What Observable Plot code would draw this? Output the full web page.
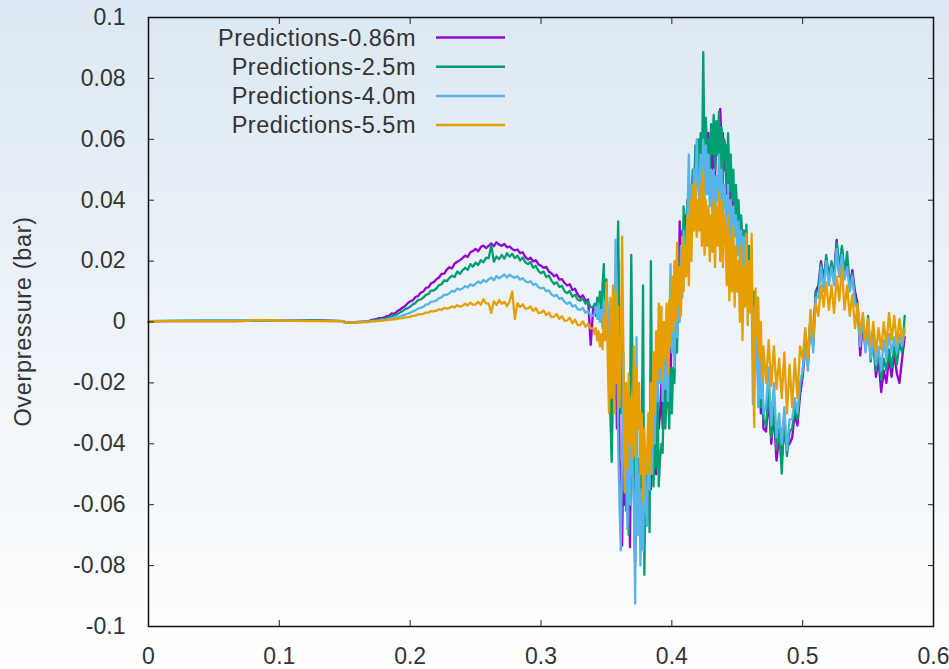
<!DOCTYPE html>
<html>
<head>
<meta charset="utf-8">
<script src="https://cdn.jsdelivr.net/npm/d3@7"></script>
<script src="https://cdn.jsdelivr.net/npm/@observablehq/plot@0.6"></script>
<style>
  html, body { margin: 0; padding: 0; }
  body {
    width: 949px; height: 669px; overflow: hidden;
    background: linear-gradient(to bottom, #dce8f3 0%, #ffffff 100%);
    font-family: "Liberation Sans", Arial, sans-serif;
  }
  #chart { position: relative; width: 949px; height: 669px; }
  #overlay { position: absolute; left: 0; top: 0; pointer-events: none; }
</style>
</head>
<body>
<div id="chart"></div>
<script>
// ---------- data ----------
const seriesNames = ["Predictions-0.86m", "Predictions-2.5m", "Predictions-4.0m", "Predictions-5.5m"];
const seriesColors = ["#9400d3", "#009e73", "#56b4e9", "#e69f00"];

const xTicks = [0, 0.1, 0.2, 0.3, 0.4, 0.5, 0.6];
const xTickLabels = ["0", "0.1", "0.2", "0.3", "0.4", "0.5", "0.6"];
const yTicks = [-0.1, -0.08, -0.06, -0.04, -0.02, 0, 0.02, 0.04, 0.06, 0.08, 0.1];
const yTickLabels = ["-0.1", "-0.08", "-0.06", "-0.04", "-0.02", "0", "0.02", "0.04", "0.06", "0.08", "0.1"];
const yTitle = "Overpressure (bar)";

// time (s): quiet part read point by point, then regular sampling blocks
const timeQuiet = [0, 0.001, 0.065, 0.073, 0.08, 0.098, 0.124, 0.149, 0.15, 0.168];
const sampleBlocks = [
  {start: 0.170, step: 0.002, count: 86},
  {start: 0.341, step: 0.001, count: 130},
  {start: 0.472, step: 0.002, count: 54}
];

// overpressure (bar)
const p086 = [
  // quiet
  0, 0.0003, 0.0003, 0.0004, 0.0005, 0.0005, 0.0006, 0.0003, -0.0002, 0.0002,
  // 0.170 - 0.340
  0.0006, 0.0008, 0.0009, 0.0013, 0.0012,
  0.0015, 0.0019, 0.0021, 0.0028, 0.0027,
  0.0035, 0.0040, 0.0047, 0.0052, 0.0061,
  0.0068, 0.0071, 0.0082, 0.0085, 0.0096,
  0.0100, 0.0112, 0.0114, 0.0127, 0.0131,
  0.0140, 0.0146, 0.0158, 0.0159, 0.0172,
  0.0180, 0.0176, 0.0192, 0.0198, 0.0203,
  0.0210, 0.0218, 0.0214, 0.0229, 0.0233,
  0.0240, 0.0232, 0.0246, 0.0251, 0.0243,
  0.0250, 0.0258, 0.0249, 0.0262, 0.0254,
  0.0250, 0.0256, 0.0245, 0.0248, 0.0240,
  0.0235, 0.0238, 0.0226, 0.0229, 0.0214,
  0.0205, 0.0211, 0.0199, 0.0203, 0.0190,
  0.0185, 0.0178, 0.0181, 0.0166, 0.0160,
  0.0150, 0.0155, 0.0139, 0.0141, 0.0128,
  0.0120, 0.0124, 0.0105, 0.0109, 0.0090,
  0.0080, 0.0088, 0.0069, 0.0074, -0.0075,
  0.0050,
  // 0.341 - 0.470
  0.005, 0.002, 0.006, 0.001, 0.004, 0.000, 0.005, 0.002, 0.007, -0.001,
  0.003, -0.008, -0.020, -0.038, -0.015, -0.025, -0.005, -0.035, 0.020, -0.045,
  -0.050, -0.0735, -0.040, -0.060, -0.035, -0.055, -0.045, -0.074, -0.030, -0.050,
  -0.055, -0.080, -0.040, -0.065, -0.050, -0.070, -0.045, -0.060, -0.050, -0.055,
  -0.050, -0.060, -0.045, -0.055, -0.040, -0.050, -0.045, -0.050, -0.030, -0.035,
  -0.030, -0.020, -0.035, -0.015, -0.030, -0.010, -0.025, -0.005, -0.020, 0.000,
  -0.005, 0.010, -0.010, 0.015, 0.000, 0.033, 0.010, 0.030, 0.020, 0.035,
  0.032, 0.040, 0.030, 0.045, 0.035, 0.048, 0.040, 0.055, 0.045, 0.058,
  0.048, 0.060, 0.050, 0.063, 0.052, 0.065, 0.055, 0.062, 0.050, 0.060,
  0.050, 0.062, 0.048, 0.060, 0.055, 0.066, 0.070, 0.058, 0.062, 0.050,
  0.055, 0.042, 0.058, 0.040, 0.050, 0.038, 0.045, 0.035, 0.043, 0.032,
  0.038, 0.025, 0.033, 0.020, 0.030, 0.018, 0.028, 0.015, 0.022, 0.010,
  0.012, -0.008, 0.005, -0.015, 0.000, -0.022, -0.010, -0.030, -0.018, -0.035,
  // 0.472 - 0.578
  -0.036, -0.025, -0.040, -0.030, -0.0455,
  -0.038, -0.044, -0.036, -0.041, -0.040,
  -0.038, -0.030, -0.034, -0.024, -0.018,
  -0.008, -0.014, 0.002, -0.006, 0.010,
  0.012, 0.020, 0.014, 0.021, 0.015,
  0.019, 0.016, 0.027, 0.015, 0.024,
  0.015, 0.020, 0.012, 0.017, 0.010,
  0.006, -0.011, 0.000, -0.008, -0.003,
  -0.010, -0.006, -0.018, -0.012, -0.023,
  -0.016, -0.020, -0.012, -0.018, -0.010,
  -0.017, -0.020, -0.012, -0.005
];

const p25 = [
  0, 0.0003, 0.0006, 0.0004, 0.0005, 0.0005, 0.0005, 0.0003, -0.0003, 0.0001,
  0.0004, 0.0005, 0.0007, 0.0008, 0.0009,
  0.0010, 0.0013, 0.0016, 0.0019, 0.0022,
  0.0025, 0.0031, 0.0035, 0.0042, 0.0045,
  0.0050, 0.0058, 0.0062, 0.0072, 0.0074,
  0.0080, 0.0089, 0.0092, 0.0104, 0.0103,
  0.0110, 0.0121, 0.0124, 0.0137, 0.0134,
  0.0145, 0.0152, 0.0148, 0.0166, 0.0158,
  0.0170, 0.0178, 0.0171, 0.0190, 0.0182,
  0.0195, 0.0187, 0.0203, 0.0196, 0.0211,
  0.0210, 0.0252, 0.0198, 0.0215, 0.0206,
  0.0220, 0.0208, 0.0226, 0.0214, 0.0224,
  0.0210, 0.0218, 0.0202, 0.0212, 0.0196,
  0.0190, 0.0197, 0.0178, 0.0185, 0.0168,
  0.0160, 0.0166, 0.0148, 0.0153, 0.0136,
  0.0125, 0.0131, 0.0115, 0.0119, 0.0101,
  0.0095, 0.0102, 0.0083, 0.0090, 0.0074,
  0.0070, 0.0078, 0.0060, 0.0068, 0.0048,
  0.0050,
  0.006, 0.003, 0.008, 0.002, 0.010, 0.001, 0.012, 0.019, 0.002, 0.014,
  0.002, -0.010, -0.030, -0.046, -0.022, -0.028, -0.010, 0.012, 0.033, -0.012,
  -0.030, 0.005, -0.045, -0.020, -0.062, -0.040, -0.070, -0.030, 0.022, -0.020,
  -0.040, -0.060, -0.030, -0.065, -0.045, -0.055, -0.040, 0.012, -0.083, -0.045,
  -0.060, -0.045, -0.069, 0.020, -0.040, -0.054, -0.025, -0.048, -0.020, -0.054,
  -0.045, -0.040, -0.043, -0.020, -0.035, -0.025, -0.020, -0.035, -0.015, -0.030,
  -0.015, -0.020, 0.000, -0.010, 0.015, 0.005, 0.025, 0.010, 0.038, 0.020,
  0.030, 0.040, 0.025, 0.045, 0.030, 0.050, 0.040, 0.058, 0.045, 0.060,
  0.050, 0.062, 0.045, 0.0886, 0.055, 0.067, 0.050, 0.060, 0.048, 0.065,
  0.055, 0.068, 0.050, 0.066, 0.055, 0.069, 0.050, 0.064, 0.045, 0.060,
  0.058, 0.045, 0.062, 0.043, 0.055, 0.040, 0.050, 0.035, 0.045, 0.030,
  0.040, 0.028, 0.035, 0.022, 0.030, 0.018, 0.032, 0.015, 0.025, 0.012,
  0.015, -0.005, 0.010, -0.012, 0.005, -0.020, -0.005, -0.028, -0.015, -0.032,
  -0.034, -0.022, -0.038, -0.028, -0.042,
  -0.035, -0.0498, -0.032, -0.044, -0.036,
  -0.035, -0.028, -0.032, -0.022, -0.016,
  -0.006, -0.014, 0.002, -0.008, 0.010,
  0.010, 0.019, 0.012, 0.022, 0.014,
  0.020, 0.014, 0.026, 0.018, 0.025,
  0.016, 0.023, 0.011, 0.016, 0.008,
  0.005, -0.006, 0.000, -0.009, 0.002,
  -0.013, -0.004, -0.016, -0.010, -0.019,
  -0.012, -0.016, -0.009, -0.015, -0.008,
  -0.014, -0.007, -0.010, 0.002
];

const p40 = [
  0, 0.0003, 0.0006, 0.0004, 0.0005, 0.0006, 0.0004, 0.0003, -0.0002, 0.0001,
  0.0003, 0.0003, 0.0004, 0.0005, 0.0006,
  0.0007, 0.0008, 0.0010, 0.0012, 0.0013,
  0.0015, 0.0018, 0.0021, 0.0024, 0.0027,
  0.0030, 0.0035, 0.0038, 0.0044, 0.0046,
  0.0050, 0.0057, 0.0059, 0.0067, 0.0068,
  0.0070, 0.0078, 0.0081, 0.0090, 0.0089,
  0.0095, 0.0102, 0.0100, 0.0110, 0.0106,
  0.0110, 0.0118, 0.0113, 0.0124, 0.0119,
  0.0125, 0.0133, 0.0127, 0.0138, 0.0132,
  0.0140, 0.0146, 0.0137, 0.0151, 0.0143,
  0.0150, 0.0156, 0.0146, 0.0155, 0.0149,
  0.0145, 0.0150, 0.0139, 0.0144, 0.0134,
  0.0130, 0.0134, 0.0122, 0.0126, 0.0115,
  0.0110, 0.0113, 0.0101, 0.0104, 0.0091,
  0.0085, 0.0089, 0.0076, 0.0079, 0.0066,
  0.0060, 0.0065, 0.0051, 0.0055, 0.0042,
  0.0040, 0.0046, 0.0030, 0.0036, 0.0022,
  0.0020,
  0.003, 0.005, 0.001, 0.006, 0.000, 0.004, -0.002, 0.007, 0.001, 0.009,
  0.004, -0.006, 0.002, -0.012, 0.006, -0.008, 0.027, 0.010, -0.040, -0.060,
  -0.075, -0.040, -0.010, -0.055, -0.030, -0.068, -0.040, -0.060, -0.025, -0.050,
  -0.060, -0.0925, -0.005, -0.070, -0.050, -0.080, -0.055, -0.075, -0.045, -0.060,
  -0.067, -0.040, -0.055, -0.030, -0.050, -0.025, -0.040, -0.015, -0.026, -0.005,
  -0.020, -0.004, -0.026, -0.008, -0.022, -0.012, -0.026, -0.005, 0.019, -0.010,
  0.005, -0.015, 0.017, -0.005, 0.012, 0.000, 0.025, 0.008, 0.030, 0.015,
  0.025, 0.035, 0.055, 0.030, 0.045, 0.035, 0.050, 0.040, 0.060, 0.045,
  0.040, 0.055, 0.045, 0.060, 0.040, 0.058, 0.042, 0.055, 0.038, 0.050,
  0.035, 0.050, 0.030, 0.048, 0.040, 0.055, 0.035, 0.050, 0.032, 0.045,
  0.040, 0.028, 0.045, 0.025, 0.040, 0.022, 0.038, 0.028, 0.035, 0.022,
  0.033, 0.020, 0.030, 0.015, 0.028, 0.012, 0.025, 0.008, 0.020, 0.005,
  0.010, -0.027, 0.005, -0.015, 0.008, -0.028, -0.005, -0.025, -0.012, -0.030,
  -0.028, -0.015, -0.034, -0.020, -0.038,
  -0.030, -0.040, -0.028, -0.042, -0.032,
  -0.032, -0.025, -0.030, -0.020, -0.016,
  -0.008, -0.016, 0.002, -0.010, 0.008,
  0.008, 0.018, 0.010, 0.020, 0.012,
  0.018, 0.012, 0.024, 0.015, 0.022,
  0.014, 0.018, 0.010, 0.015, 0.006,
  0.004, -0.008, 0.002, -0.010, -0.002,
  -0.012, -0.005, -0.014, -0.008, -0.016,
  -0.006, -0.012, -0.004, -0.010, -0.005,
  -0.010, -0.004, -0.008, -0.003
];

const p55 = [
  0, 0.0003, 0.0003, 0.0003, 0.0006, 0.0005, 0.0003, 0.0003, -0.0002, 0.0000,
  0.0002, 0.0002, 0.0003, 0.0004, 0.0004,
  0.0005, 0.0006, 0.0007, 0.0008, 0.0009,
  0.0010, 0.0012, 0.0013, 0.0015, 0.0016,
  0.0017, 0.0020, 0.0021, 0.0025, 0.0025,
  0.0027, 0.0031, 0.0031, 0.0036, 0.0035,
  0.0037, 0.0042, 0.0040, 0.0046, 0.0044,
  0.0046, 0.0051, 0.0048, 0.0055, 0.0050,
  0.0053, 0.0060, 0.0054, 0.0064, 0.0056,
  0.0058, 0.0066, 0.0057, 0.0075, 0.0061,
  0.0060, 0.0030, 0.0068, 0.0056, 0.0072,
  0.0060, 0.0066, 0.0052, 0.0068, 0.0100,
  0.0010, 0.0062, 0.0049, 0.0058, 0.0044,
  0.0045, 0.0051, 0.0036, 0.0046, 0.0030,
  0.0030, 0.0038, 0.0022, 0.0031, 0.0016,
  0.0018, 0.0026, 0.0010, 0.0019, 0.0004,
  0.0005, 0.0014, -0.0004, 0.0008, -0.0010,
  -0.0010, 0.0002, -0.0016, -0.0006, -0.0022,
  -0.0020,
  -0.004, -0.002, -0.006, -0.003, -0.008, -0.004, -0.009, 0.002, -0.006, 0.013,
  -0.012, -0.030, 0.008, -0.025, 0.012, -0.030, 0.010, -0.020, 0.005, -0.028,
  -0.010, 0.028, -0.010, -0.056, -0.020, -0.048, -0.017, -0.040, -0.025, -0.045,
  -0.008, -0.044, -0.015, -0.035, -0.020, -0.050, -0.030, -0.059, -0.035, -0.050,
  -0.045, -0.030, -0.050, -0.020, -0.041, -0.010, -0.030, -0.003, -0.019, 0.006,
  -0.015, 0.005, -0.019, 0.000, -0.012, 0.006, -0.017, 0.007, -0.008, 0.015,
  -0.003, 0.020, 0.000, 0.026, 0.005, 0.018, 0.002, 0.028, 0.010, 0.025,
  0.015, 0.035, 0.012, 0.040, 0.020, 0.045, 0.030, 0.046, 0.028, 0.040,
  0.030, 0.045, 0.025, 0.0497, 0.022, 0.040, 0.025, 0.038, 0.020, 0.035,
  0.023, 0.040, 0.018, 0.038, 0.025, 0.043, 0.020, 0.040, 0.018, 0.035,
  0.030, 0.012, 0.035, 0.007, 0.028, 0.010, 0.031, 0.005, 0.025, 0.010,
  0.020, 0.000, 0.025, -0.006, 0.018, 0.005, 0.029, -0.001, 0.020, 0.003,
  0.029, -0.010, -0.0345, 0.011, -0.005, 0.008, -0.012, 0.000, -0.019, -0.008,
  -0.020, -0.006, -0.021, -0.008, -0.022,
  -0.012, -0.025, -0.010, -0.030, -0.014,
  -0.028, -0.012, -0.025, -0.008, -0.012,
  -0.002, -0.012, 0.004, -0.005, 0.006,
  0.002, 0.012, 0.005, 0.013, 0.004,
  0.012, 0.003, 0.015, 0.007, 0.018,
  0.004, 0.012, 0.002, 0.009, -0.002,
  0.006, -0.004, 0.003, -0.006, 0.001,
  -0.008, 0.000, -0.010, -0.002, -0.009,
  0.000, -0.008, 0.003, -0.006, 0.002,
  -0.007, 0.001, -0.006, -0.002
];

const seriesValues = [p086, p25, p40, p55];

// ---------- build table ----------
const time = timeQuiet.concat(...sampleBlocks.map(b =>
  Array.from({length: b.count}, (_, i) => +(b.start + i * b.step).toFixed(4))));
seriesValues.forEach((vals, k) => {
  if (vals.length !== time.length) throw new Error(`series ${k}: ${vals.length} values vs ${time.length} times`);
});
const rows = seriesNames.map((name, k) => time.map((t, i) => ({t, v: seriesValues[k][i], name})));

// ---------- plot ----------
const W = 949, H = 669;
const M = {left: 148, right: 16, top: 17, bottom: 43};
const textColor = "#333";
const font = "'Liberation Sans', Arial, sans-serif";

const plot = Plot.plot({
  width: W, height: H,
  marginLeft: M.left, marginRight: M.right, marginTop: M.top, marginBottom: M.bottom,
  style: {background: "none", fontFamily: font, fontSize: "23px", color: textColor, overflow: "visible"},
  x: {domain: [0, 0.6], label: null},
  y: {domain: [-0.1, 0.1], label: null},
  marks: [
    ...rows.map((data, k) => Plot.line(data, {x: "t", y: "v", stroke: seriesColors[k], strokeWidth: 2.3})),
    // inward ticks on all four sides
    Plot.axisY(yTicks, {anchor: "left", tickSize: 6, dx: 6, fill: "none", stroke: "#222", label: null}),
    Plot.axisY(yTicks, {anchor: "right", tickSize: 6, dx: -6, fill: "none", stroke: "#222", label: null}),
    Plot.axisX(xTicks, {anchor: "bottom", tickSize: 6, dy: -6, fill: "none", stroke: "#222", label: null}),
    Plot.axisX(xTicks, {anchor: "top", tickSize: 6, dy: 6, fill: "none", stroke: "#222", label: null}),
    // tick labels
    Plot.axisY(yTicks, {anchor: "left", tickSize: 0, tickPadding: 23, fill: textColor, label: null,
      tickFormat: d => yTickLabels[yTicks.indexOf(d)]}),
    Plot.axisX(xTicks, {anchor: "bottom", tickSize: 0, tickPadding: 21, fill: textColor, label: null,
      tickFormat: d => xTickLabels[xTicks.indexOf(d)]}),
    Plot.frame({stroke: "#111", strokeWidth: 1.5})
  ]
});
document.getElementById("chart").appendChild(plot);

// ---------- legend and y title overlay ----------
const svg = d3.select("#chart").append("svg")
  .attr("id", "overlay").attr("width", W).attr("height", H)
  .style("font-family", font);

const legendTextRight = 416, legendLineX1 = 436, legendLineX2 = 505, legendTop = 37.5, legendStep = 29.2;
seriesNames.forEach((name, k) => {
  const y = legendTop + k * legendStep;
  svg.append("text").attr("x", legendTextRight).attr("y", y).attr("dy", "0.35em")
    .attr("text-anchor", "end").attr("font-size", 23.5).attr("letter-spacing", "0.5px")
    .attr("fill", textColor).text(name);
  svg.append("line").attr("x1", legendLineX1).attr("x2", legendLineX2).attr("y1", y).attr("y2", y)
    .attr("stroke", seriesColors[k]).attr("stroke-width", 2.5);
});

svg.append("text")
  .attr("transform", `translate(23, ${(M.top + H - M.bottom) / 2}) rotate(-90)`)
  .attr("text-anchor", "middle").attr("dy", "0.35em")
  .attr("font-size", 23.5).attr("letter-spacing", "0.65px")
  .attr("fill", textColor).text(yTitle);
</script>
</body>
</html>
